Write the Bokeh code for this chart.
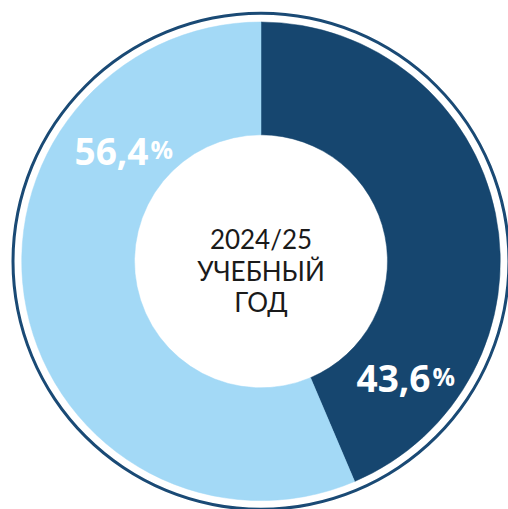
import math
from bokeh.plotting import figure
from bokeh.embed import file_html
from bokeh.resources import INLINE
from bokeh.core.properties import value

# data
categories = ["2024/25 dark", "2024/25 light"]
shares = [43.6, 56.4]
labels = ["43,6", "56,4"]
colors = ["#16466f", "#a3d9f6"]
center_lines = ["2024/25", "УЧЕБНЫЙ", "ГОД"]

W, H = 508, 509
p = figure(width=W, height=H, x_range=(0, W), y_range=(0, H),
           output_backend="svg", toolbar_location=None, min_border=0)
p.axis.visible = False
p.grid.visible = False
p.outline_line_color = None
p.background_fill_color = "white"
p.border_fill_color = "white"

def sx(x):
    return x

def sy(y):
    return H - y

cx, cy = sx(260.5), sy(260.8)

# outer ring
p.annulus(x=[cx], y=[cy], inner_radius=246.5, outer_radius=249.5,
          fill_color="#1a4a75", line_color=None)

# wedges: clockwise from top
total = sum(shares)
start = math.pi / 2
starts, ends = [], []
for s in shares:
    sweep = 2 * math.pi * s / total
    ends.append(start)
    starts.append(start - sweep)
    start -= sweep
p.annular_wedge(x=[cx] * 2, y=[cy] * 2, inner_radius=126.5, outer_radius=239.3,
                start_angle=starts, end_angle=ends, fill_color=colors,
                line_color=colors, line_width=0.5)

# percentage labels
num_pos = [(430, 378), (148, 151)]
for lab, (x, y) in zip(labels, num_pos):
    p.text(x=[sx(x)], y=[sy(y)], text=[lab], text_align="right",
           text_baseline="alphabetic", text_font=value("Open Sans"),
           text_font_style="bold", text_font_size="37px", text_color="white")
    p.text(x=[sx(x + 2)], y=[sy(y - 3)], text=["%"], text_align="left",
           text_baseline="alphabetic", text_font=value("Open Sans"),
           text_font_style="bold", text_font_size="25px", text_color="white")

# center text
line_y = [238, 270, 301]
for t, y in zip(center_lines, line_y):
    p.text(x=[cx], y=[sy(y)], text=[t], text_align="center",
           text_baseline="middle", text_font=value("Lato"),
           text_font_size="26px", text_color="#1a1a1a")

open("out.html", "w").write(file_html(p, INLINE))
